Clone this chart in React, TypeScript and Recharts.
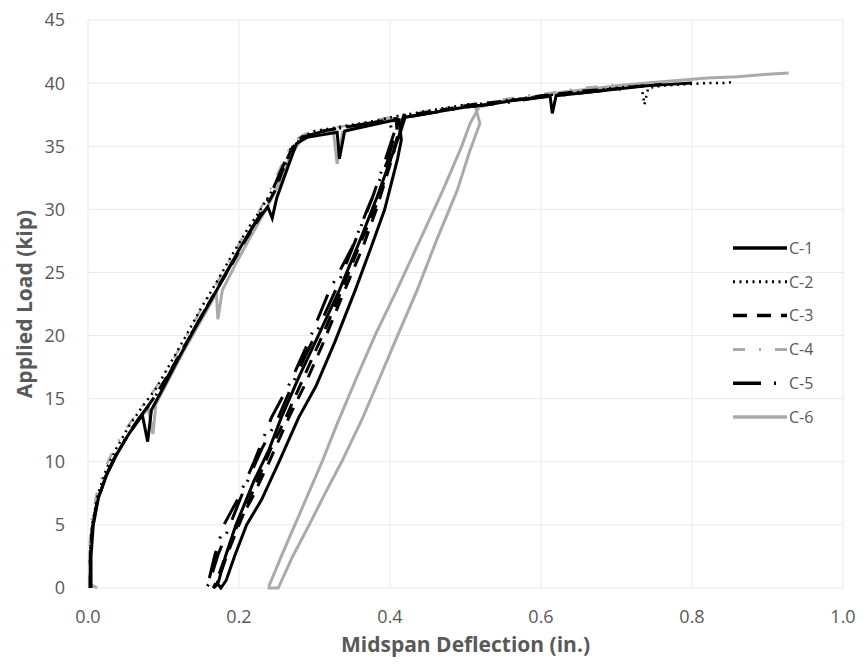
import React from 'react';
import { LineChart, Line, XAxis, YAxis, CartesianGrid, Legend } from 'recharts';

// axis ticks
const xTicks = [0, 0.2, 0.4, 0.6, 0.8, 1.0];
const yTicks = [0, 5, 10, 15, 20, 25, 30, 35, 40, 45];

// C-1 : solid black, unload/reload loop at ~0.41 in.
const c1Deflection = [
  0.004, 0.004, 0.007, 0.014, 0.025, 0.038, 0.055, 0.072, 0.079, 0.084, 0.1, 0.12, 0.14, 0.16, 0.18, 0.2, 0.22, 0.238,
  0.244, 0.25, 0.265, 0.276, 0.29, 0.31, 0.33, 0.333, 0.34, 0.37, 0.4, 0.412,
  0.415, 0.41, 0.393, 0.375, 0.354, 0.327, 0.302, 0.279, 0.253, 0.23, 0.21, 0.194, 0.183, 0.176,
  0.172, 0.182, 0.196, 0.22, 0.24, 0.256, 0.28, 0.305, 0.333, 0.36, 0.383, 0.398, 0.41, 0.42,
  0.44, 0.47, 0.5, 0.53, 0.56, 0.59, 0.612, 0.615, 0.62, 0.65, 0.68, 0.71, 0.74, 0.77, 0.8,
];
const c1Load = [
  0, 2.5, 5, 7.2, 9, 10.6, 12.3, 13.7, 11.6, 14.1, 15.9, 18.2, 20.4, 22.5, 24.6, 26.8, 28.8, 30.2,
  29.3, 30.9, 33.4, 35.2, 35.7, 35.9, 36.1, 34.0, 36.2, 36.6, 37.0, 37.1,
  35.5, 34, 30, 27, 23.6, 19.5, 16, 13.5, 10, 7, 5, 2.5, 0.6, 0,
  0.3, 2.5, 5, 8.5, 11, 13.5, 16.8, 20, 23.6, 27.5, 31, 33.5, 35.5, 37.3,
  37.5, 37.8, 38.1, 38.3, 38.6, 38.8, 39.0, 37.6, 39.0, 39.2, 39.4, 39.6, 39.8, 39.9, 40.0,
];

// C-2 : dotted black, no unloading
const c2Deflection = [
  0.003, 0.003, 0.006, 0.013, 0.024, 0.037, 0.054, 0.07, 0.09, 0.11, 0.13, 0.15, 0.17, 0.19, 0.21, 0.23, 0.245, 0.26,
  0.272, 0.285, 0.3, 0.32, 0.35, 0.38, 0.41, 0.44, 0.47, 0.5, 0.53, 0.56, 0.59, 0.62, 0.65, 0.68, 0.71, 0.733,
  0.737, 0.742, 0.76, 0.79, 0.82, 0.84, 0.857,
];
const c2Load = [
  0, 3, 5.2, 7.4, 9.4, 11, 12.8, 14.2, 15.8, 17.9, 20, 22.2, 24.2, 26.3, 28.3, 30.1, 31.6, 33.3,
  35, 35.8, 36.2, 36.4, 36.7, 37.0, 37.4, 37.7, 38.0, 38.3, 38.4, 38.7, 38.9, 39.1, 39.3, 39.5, 39.7, 39.8,
  38.3, 39.6, 39.8, 39.9, 40.0, 40.0, 40.1,
];

// C-3 : dashed black, unload/reload loop
const c3Deflection = [
  0.003, 0.003, 0.006, 0.013, 0.024, 0.036, 0.052, 0.07, 0.09, 0.11, 0.13, 0.15, 0.17, 0.19, 0.21, 0.23, 0.248, 0.262,
  0.274, 0.29, 0.31, 0.34, 0.37, 0.4, 0.408,
  0.41, 0.405, 0.382, 0.364, 0.34, 0.31, 0.288, 0.266, 0.24, 0.218, 0.198, 0.182, 0.17, 0.166,
  0.17, 0.184, 0.2, 0.222, 0.242, 0.262, 0.288, 0.312, 0.336, 0.36, 0.385, 0.4, 0.412, 0.418,
  0.45, 0.48, 0.51, 0.54, 0.57, 0.6, 0.63, 0.66, 0.69, 0.72, 0.76,
];
const c3Load = [
  0, 2.8, 5, 7, 8.9, 10.4, 12, 13.6, 15.3, 17.3, 19.4, 21.5, 23.6, 25.6, 27.7, 29.6, 31.5, 33.8,
  35.3, 35.8, 36.2, 36.5, 36.8, 37.1, 37.2,
  35.8, 34.5, 30, 27, 23.6, 19.2, 16.2, 13.5, 10, 7.2, 5, 2.5, 0.5, 0,
  0.2, 2.6, 5, 8.2, 11, 13.5, 17, 20.2, 23.6, 27.2, 30.8, 33.8, 36.2, 37.4,
  37.7, 38.0, 38.3, 38.5, 38.7, 39.0, 39.2, 39.4, 39.5, 39.7, 39.9,
];

// C-4 : grey dash-dot, no unloading
const c4Deflection = [
  0.002, 0.002, 0.005, 0.012, 0.022, 0.034, 0.05, 0.068, 0.088, 0.108, 0.128, 0.148, 0.168, 0.188, 0.208, 0.228, 0.245,
  0.26, 0.272, 0.288, 0.31, 0.34, 0.37, 0.4, 0.43, 0.46, 0.49, 0.52, 0.55, 0.58, 0.61, 0.64, 0.67, 0.7,
];
const c4Load = [
  0, 3.2, 5.5, 7.6, 9.4, 11, 12.6, 14.1, 15.7, 17.6, 19.7, 21.9, 23.9, 26, 28.1, 30, 32,
  34, 35.4, 36, 36.3, 36.6, 36.9, 37.3, 37.6, 37.9, 38.2, 38.4, 38.7, 39.0, 39.2, 39.5, 39.7, 39.9,
];

// C-5 : long-dash-dot black, unload/reload loop
const c5Deflection = [
  0.003, 0.003, 0.006, 0.012, 0.023, 0.035, 0.05, 0.068, 0.086, 0.106, 0.126, 0.146, 0.166, 0.186, 0.206, 0.226, 0.242,
  0.258, 0.27, 0.283, 0.3, 0.32, 0.35, 0.38, 0.4,
  0.404, 0.398, 0.37, 0.35, 0.32, 0.292, 0.268, 0.243, 0.22, 0.198, 0.18, 0.168, 0.16, 0.156,
  0.16, 0.172, 0.188, 0.21, 0.23, 0.252, 0.277, 0.303, 0.328, 0.352, 0.376, 0.392, 0.404, 0.412,
  0.44, 0.47, 0.5, 0.53, 0.56, 0.59, 0.62, 0.65, 0.68, 0.72,
];
const c5Load = [
  0, 2.6, 4.8, 6.8, 8.8, 10.3, 11.9, 13.5, 14.9, 16.8, 19, 21.1, 23.2, 25.3, 27.4, 29.4, 31.2,
  33.4, 35, 35.7, 36.0, 36.3, 36.6, 36.9, 37.0,
  35.5, 34, 30, 27, 23.6, 19.5, 16.3, 13.5, 10, 7, 5, 2.6, 0.6, 0,
  0.3, 2.6, 5, 8.3, 11, 13.5, 17, 20.3, 23.6, 27.2, 30.8, 33.6, 35.8, 37.2,
  37.5, 37.8, 38.1, 38.3, 38.5, 38.8, 39.0, 39.2, 39.4, 39.6,
];

// C-6 : solid grey, unload/reload loop at ~0.51 in.
const c6Deflection = [
  0.012, 0.003, 0.003, 0.006, 0.012, 0.022, 0.035, 0.05, 0.066, 0.08, 0.086, 0.09, 0.105, 0.125, 0.145, 0.163, 0.17,
  0.172, 0.178, 0.195, 0.215, 0.235, 0.252, 0.268, 0.282, 0.3, 0.325, 0.33, 0.337, 0.36, 0.39, 0.41, 0.413, 0.42,
  0.45, 0.48, 0.513,
  0.519, 0.505, 0.489, 0.462, 0.436, 0.41, 0.386, 0.364, 0.336, 0.314, 0.293, 0.271, 0.252, 0.24,
  0.24, 0.256, 0.274, 0.292, 0.31, 0.33, 0.356, 0.38, 0.409, 0.44, 0.47, 0.495, 0.506, 0.518,
  0.54, 0.57, 0.6, 0.63, 0.66, 0.7, 0.74, 0.78, 0.82, 0.86, 0.9, 0.928,
];
const c6Load = [
  0, 0.3, 3, 5, 6.8, 8.6, 10.2, 11.8, 13.3, 14.2, 12.2, 14.6, 16.3, 18.6, 20.7, 22.6, 23.4,
  21.3, 23.6, 25.6, 27.8, 29.9, 31.9, 34.2, 35.5, 35.9, 36.2, 33.6, 36.1, 36.6, 37.0, 37.2, 35.8, 37.3,
  37.6, 37.9, 38.2,
  36.8, 34.5, 31.5, 27.6, 23.6, 20, 16.6, 13.5, 10, 7.5, 5, 2.5, 0, 0,
  0.2, 2.5, 5, 7.5, 10, 13, 16.7, 20, 23.6, 27.6, 31.5, 35, 36.8, 38.1,
  38.4, 38.7, 39.0, 39.3, 39.5, 39.8, 40.0, 40.2, 40.4, 40.5, 40.7, 40.8,
];

const toPoints = (xs: number[], ys: number[]) => xs.map((x, i) => ({ x, y: ys[i] }));

const GREY_TEXT = '#595959';
const FONT = '"Open Sans", "Noto Sans", sans-serif';

const series = [
  { name: 'C-1', data: toPoints(c1Deflection, c1Load), stroke: '#000000', width: 3, dash: undefined },
  { name: 'C-2', data: toPoints(c2Deflection, c2Load), stroke: '#000000', width: 2.5, dash: '2 4.5' },
  { name: 'C-3', data: toPoints(c3Deflection, c3Load), stroke: '#000000', width: 3, dash: '14 10' },
  { name: 'C-4', data: toPoints(c4Deflection, c4Load), stroke: '#aaaaaa', width: 2.5, dash: '12 14 2 14' },
  { name: 'C-5', data: toPoints(c5Deflection, c5Load), stroke: '#000000', width: 3, dash: '28 13 2 13' },
  { name: 'C-6', data: toPoints(c6Deflection, c6Load), stroke: '#aaaaaa', width: 3, dash: undefined },
];

// grey curves go underneath
const drawOrder = ['C-6', 'C-4', 'C-5', 'C-3', 'C-2', 'C-1'];

const renderLegend = () => (
  <svg width={100} height={215} style={{ display: 'block' }}>
    {series.map((s, i) => {
      const cy = 10 + i * 33.8;
      return (
        <g key={s.name}>
          <line x1={0} x2={54} y1={cy} y2={cy} stroke={s.stroke} strokeWidth={s.width + 0.5} strokeDasharray={s.dash} />
          <text x={56} y={cy} dy="0.36em" fontSize={16} fill={GREY_TEXT} fontFamily={FONT}>
            {s.name}
          </text>
        </g>
      );
    })}
  </svg>
);

export default function App() {
  return (
    <div style={{ width: 851, height: 653, fontFamily: FONT }}>
      <LineChart width={851} height={653} margin={{ top: 12, right: 16, left: 0, bottom: 9 }}>
        <CartesianGrid stroke="#e9e9e9" strokeWidth={1} />
        <XAxis
          dataKey="x"
          type="number"
          domain={[0, 1]}
          ticks={xTicks}
          tickFormatter={(v: number) => v.toFixed(1)}
          axisLine={false}
          tickLine={false}
          tickSize={0}
          tickMargin={22}
          height={64}
          tick={{ fill: GREY_TEXT, fontSize: 18 }}
          label={{
            value: 'Midspan Deflection (in.)',
            position: 'insideBottom',
            offset: 0,
            fill: GREY_TEXT,
            fontSize: 21,
            fontWeight: 700,
          }}
        />
        <YAxis
          type="number"
          domain={[0, 45]}
          ticks={yTicks}
          axisLine={false}
          tickLine={false}
          tickSize={0}
          tickMargin={23}
          width={80}
          tick={{ fill: GREY_TEXT, fontSize: 18 }}
          label={{
            value: 'Applied Load (kip)',
            angle: -90,
            position: 'insideLeft',
            offset: 17,
            fill: GREY_TEXT,
            fontSize: 21,
            fontWeight: 700,
            style: { textAnchor: 'middle' },
          }}
        />
        <Legend
          layout="vertical"
          align="center"
          verticalAlign="middle"
          content={renderLegend}
          wrapperStyle={{ left: 725, top: 230, width: 100, height: 215 }}
        />
        {drawOrder.map((name) => {
          const s = series.find((d) => d.name === name)!;
          return (
            <Line
              key={s.name}
              name={s.name}
              data={s.data}
              dataKey="y"
              type="linear"
              stroke={s.stroke}
              strokeWidth={s.width}
              strokeDasharray={s.dash}
              dot={false}
              activeDot={false}
              isAnimationActive={false}
            />
          );
        })}
      </LineChart>
    </div>
  );
}
